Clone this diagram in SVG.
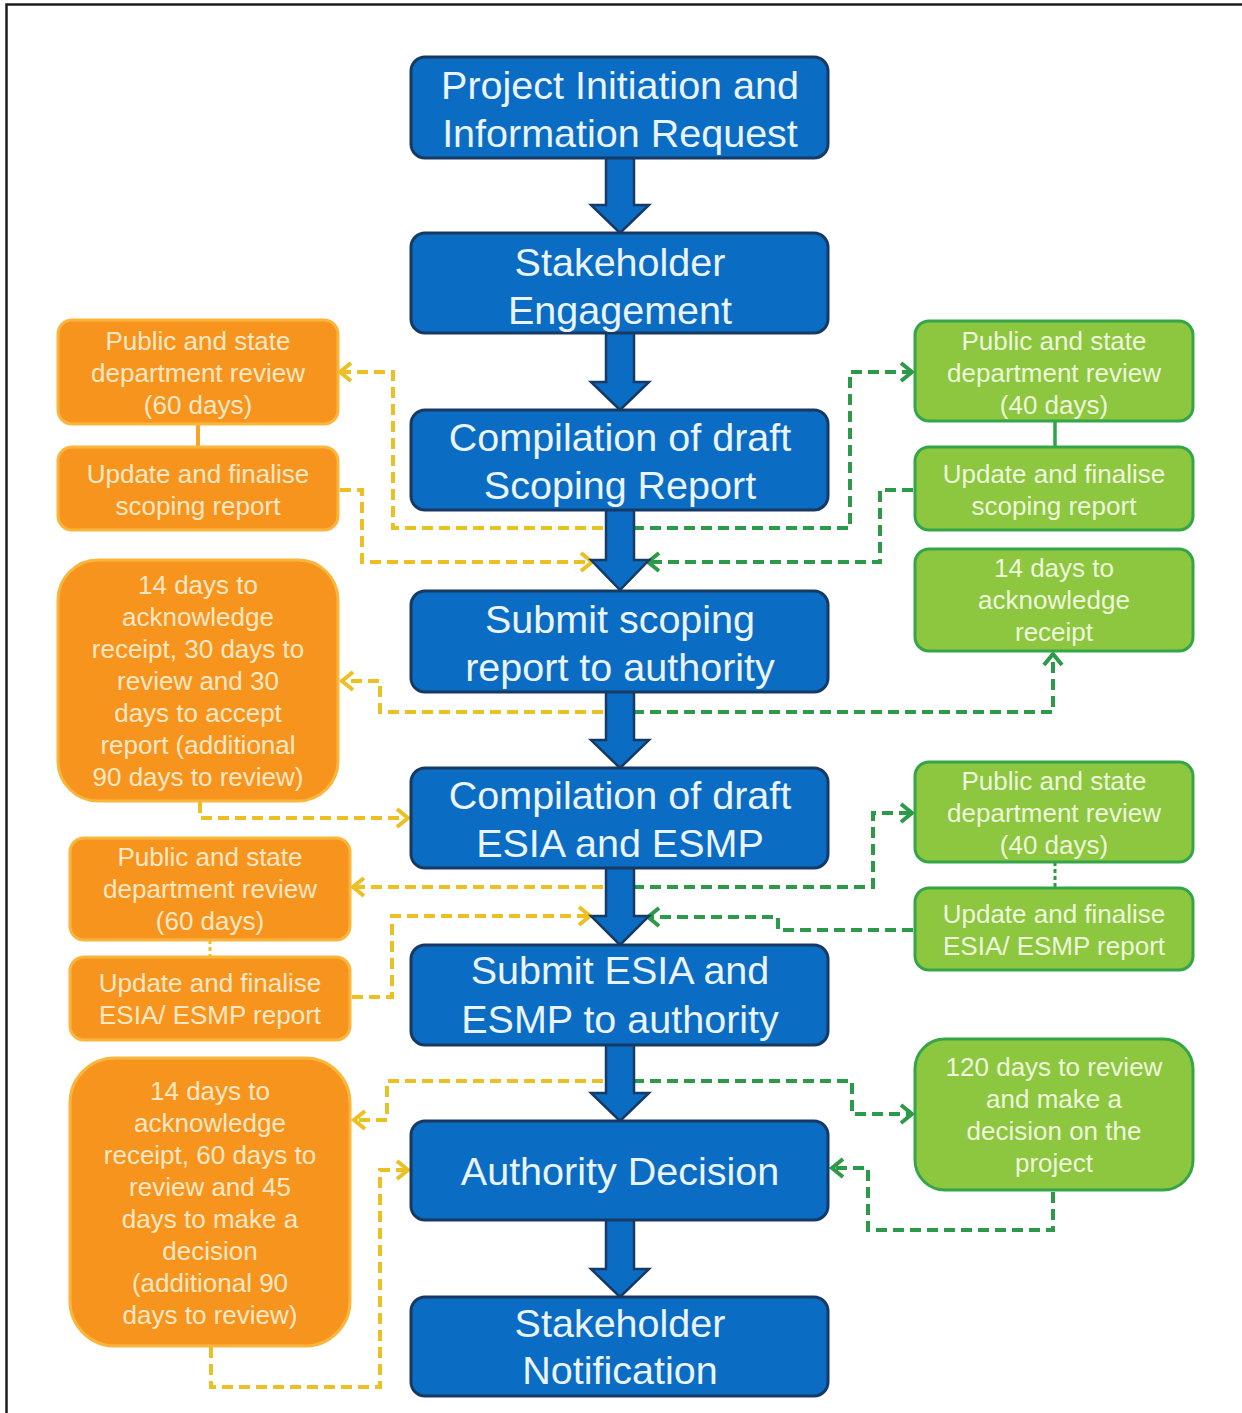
<svg xmlns="http://www.w3.org/2000/svg" width="1242" height="1413" viewBox="0 0 1242 1413">
<defs>
<style>
.blue{fill:#0b6cc4;stroke:#163a63;stroke-width:3}
.bt{font-family:"Liberation Sans",Arial,sans-serif;font-size:39.5px;fill:#eaf4ff;text-anchor:middle}
.org{fill:#f7941e;stroke:#fab53c;stroke-width:3}
.ot{font-family:"Liberation Sans",Arial,sans-serif;font-size:26px;fill:#fde8c6;text-anchor:middle}
.grn{fill:#8dc63f;stroke:#34a548;stroke-width:3}
.gt{font-family:"Liberation Sans",Arial,sans-serif;font-size:26px;fill:#eef8dc;text-anchor:middle}
.dy{fill:none;stroke:#ecc023;stroke-width:4;stroke-dasharray:11 6}
.dg{fill:none;stroke:#2c9a48;stroke-width:4;stroke-dasharray:11 6}
.barrow{fill:#0b6cc4;stroke:#163a63;stroke-width:2.5;stroke-linejoin:miter}
</style>
<marker id="ay" viewBox="0 0 24 24" refX="19" refY="12" markerWidth="24" markerHeight="24" markerUnits="userSpaceOnUse" orient="auto">
<path d="M8,3 L19,12 L8,21" fill="none" stroke="#ecc023" stroke-width="4" stroke-dasharray="none"/>
</marker>
<marker id="ag" viewBox="0 0 24 24" refX="19" refY="12" markerWidth="24" markerHeight="24" markerUnits="userSpaceOnUse" orient="auto">
<path d="M8,3 L19,12 L8,21" fill="none" stroke="#2c9a48" stroke-width="4" stroke-dasharray="none"/>
</marker>
</defs>
<rect width="1242" height="1413" fill="#ffffff"/>
<path d="M6.5,1413 V4.5 H1242" fill="none" stroke="#1e1e1e" stroke-width="2.5"/>

<g id="connectors">
<path class="dy" d="M603,528 H393 V372 H340" marker-end="url(#ay)"/>
<path class="dy" d="M340,490 H362 V562 H592" marker-end="url(#ay)"/>
<path class="dg" d="M633,528 H850 V372 H912" marker-end="url(#ag)"/>
<path class="dg" d="M913,490 H880 V562 H648" marker-end="url(#ag)"/>
<path class="dy" d="M603,712 H380 V681 H342" marker-end="url(#ay)"/>
<path class="dg" d="M633,712 H1053 V654" marker-end="url(#ag)"/>
<path class="dy" d="M200,802 V818 H408" marker-end="url(#ay)"/>
<path class="dg" d="M633,887 H873 V813 H912" marker-end="url(#ag)"/>
<path class="dy" d="M603,887 H353" marker-end="url(#ay)"/>
<path class="dy" d="M352,997 H392 V916 H590" marker-end="url(#ay)"/>
<path class="dg" d="M913,930 H778 V917 H648" marker-end="url(#ag)"/>
<path class="dy" d="M603,1081 H387 V1120 H354" marker-end="url(#ay)"/>
<path class="dg" d="M633,1081 H852 V1114 H912" marker-end="url(#ag)"/>
<path class="dy" d="M211,1347 V1387 H380 V1170 H408" marker-end="url(#ay)"/>
<path class="dg" d="M1053,1192 V1230 H868 V1168 H832" marker-end="url(#ag)"/>
<line x1="198" y1="424" x2="198" y2="447" stroke="#f6a42a" stroke-width="4"/>
<line x1="210" y1="940" x2="210" y2="957" stroke="#ecc023" stroke-width="3" stroke-dasharray="4 3"/>
<line x1="1055" y1="421" x2="1055" y2="447" stroke="#2ea548" stroke-width="3.5"/>
<line x1="1055" y1="862" x2="1055" y2="888" stroke="#2c9a48" stroke-width="3" stroke-dasharray="4 3"/>
<polygon class="barrow" points="606,156 634,156 634,205 649,205 620,233 591,205 606,205"/>
<polygon class="barrow" points="606,331 634,331 634,382 649,382 620,410 591,382 606,382"/>
<polygon class="barrow" points="606,508 634,508 634,560 649,560 620,590 591,560 606,560"/>
<polygon class="barrow" points="606,690 634,690 634,740 649,740 620,768 591,740 606,740"/>
<polygon class="barrow" points="606,866 634,866 634,916 649,916 620,945 591,916 606,916"/>
<polygon class="barrow" points="606,1043 634,1043 634,1093 649,1093 620,1121 591,1093 606,1093"/>
<polygon class="barrow" points="606,1218 634,1218 634,1269 649,1269 620,1297 591,1269 606,1269"/>
</g>

<g id="b1"><rect class="blue" x="411" y="57" width="417" height="101" rx="14"/><text class="bt" x="620" y="99">Project Initiation and</text><text class="bt" x="620" y="147">Information Request</text></g>
<g id="b2"><rect class="blue" x="411" y="233" width="417" height="100" rx="14"/><text class="bt" x="620" y="276">Stakeholder</text><text class="bt" x="620" y="324">Engagement</text></g>
<g id="b3"><rect class="blue" x="411" y="410" width="417" height="100" rx="14"/><text class="bt" x="620" y="451">Compilation of draft</text><text class="bt" x="620" y="499">Scoping Report</text></g>
<g id="b4"><rect class="blue" x="411" y="591" width="417" height="101" rx="14"/><text class="bt" x="620" y="633">Submit scoping</text><text class="bt" x="620" y="681">report to authority</text></g>
<g id="b5"><rect class="blue" x="411" y="768" width="417" height="100" rx="14"/><text class="bt" x="620" y="809">Compilation of draft</text><text class="bt" x="620" y="857">ESIA and ESMP</text></g>
<g id="b6"><rect class="blue" x="411" y="945" width="417" height="100" rx="14"/><text class="bt" x="620" y="984">Submit ESIA and</text><text class="bt" x="620" y="1033">ESMP to authority</text></g>
<g id="b7"><rect class="blue" x="411" y="1121" width="417" height="99" rx="14"/><text class="bt" x="620" y="1185">Authority Decision</text></g>
<g id="b8"><rect class="blue" x="411" y="1297" width="417" height="99" rx="14"/><text class="bt" x="620" y="1337">Stakeholder</text><text class="bt" x="620" y="1384">Notification</text></g>

<g id="o1"><rect class="org" x="58" y="320" width="280" height="104" rx="14"/><text class="ot" x="198" y="350">Public and state</text><text class="ot" x="198" y="382">department review</text><text class="ot" x="198" y="414">(60 days)</text></g>
<g id="o2"><rect class="org" x="58" y="447" width="280" height="83" rx="14"/><text class="ot" x="198" y="483">Update and finalise</text><text class="ot" x="198" y="515">scoping report</text></g>
<g id="o3"><rect class="org" x="58" y="560" width="280" height="241" rx="40"/><text class="ot" x="198" y="594">14 days to</text><text class="ot" x="198" y="626">acknowledge</text><text class="ot" x="198" y="658">receipt, 30 days to</text><text class="ot" x="198" y="690">review and 30</text><text class="ot" x="198" y="722">days to accept</text><text class="ot" x="198" y="754">report (additional</text><text class="ot" x="198" y="786">90 days to review)</text></g>
<g id="o4"><rect class="org" x="70" y="838" width="280" height="102" rx="14"/><text class="ot" x="210" y="866">Public and state</text><text class="ot" x="210" y="898">department review</text><text class="ot" x="210" y="930">(60 days)</text></g>
<g id="o5"><rect class="org" x="70" y="957" width="280" height="83" rx="14"/><text class="ot" x="210" y="992">Update and finalise</text><text class="ot" x="210" y="1024">ESIA/ ESMP report</text></g>
<g id="o6"><rect class="org" x="70" y="1058" width="280" height="288" rx="45"/><text class="ot" x="210" y="1100">14 days to</text><text class="ot" x="210" y="1132">acknowledge</text><text class="ot" x="210" y="1164">receipt, 60 days to</text><text class="ot" x="210" y="1196">review and 45</text><text class="ot" x="210" y="1228">days to make a</text><text class="ot" x="210" y="1260">decision</text><text class="ot" x="210" y="1292">(additional 90</text><text class="ot" x="210" y="1324">days to review)</text></g>

<g id="g1"><rect class="grn" x="915" y="321" width="278" height="100" rx="14"/><text class="gt" x="1054" y="350">Public and state</text><text class="gt" x="1054" y="382">department review</text><text class="gt" x="1054" y="414">(40 days)</text></g>
<g id="g2"><rect class="grn" x="915" y="447" width="278" height="83" rx="14"/><text class="gt" x="1054" y="483">Update and finalise</text><text class="gt" x="1054" y="515">scoping report</text></g>
<g id="g3"><rect class="grn" x="915" y="549" width="278" height="102" rx="14"/><text class="gt" x="1054" y="577">14 days to</text><text class="gt" x="1054" y="609">acknowledge</text><text class="gt" x="1054" y="641">receipt</text></g>
<g id="g4"><rect class="grn" x="915" y="762" width="278" height="100" rx="14"/><text class="gt" x="1054" y="790">Public and state</text><text class="gt" x="1054" y="822">department review</text><text class="gt" x="1054" y="854">(40 days)</text></g>
<g id="g5"><rect class="grn" x="915" y="888" width="278" height="82" rx="14"/><text class="gt" x="1054" y="923">Update and finalise</text><text class="gt" x="1054" y="955">ESIA/ ESMP report</text></g>
<g id="g6"><rect class="grn" x="915" y="1039" width="278" height="151" rx="30"/><text class="gt" x="1054" y="1076">120 days to review</text><text class="gt" x="1054" y="1108">and make a</text><text class="gt" x="1054" y="1140">decision on the</text><text class="gt" x="1054" y="1172">project</text></g>
</svg>
